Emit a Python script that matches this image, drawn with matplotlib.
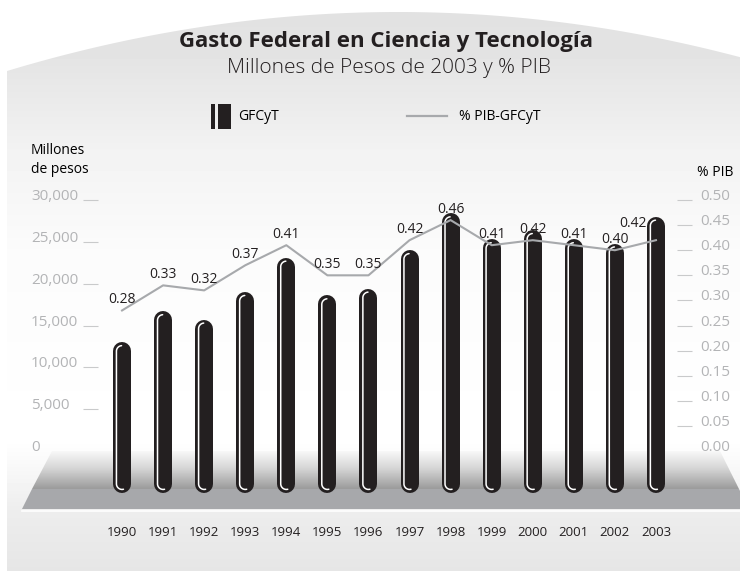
import numpy as np
import matplotlib
matplotlib.use('Agg')
import matplotlib.pyplot as plt
from matplotlib import transforms
from matplotlib.patches import Polygon, Rectangle

# data
years = [1990, 1991, 1992, 1993, 1994, 1995, 1996,
         1997, 1998, 1999, 2000, 2001, 2002, 2003]
gasto = [13000, 16700, 15700, 19000, 23100, 18600, 19400,
         24000, 28400, 25300, 26400, 25300, 24800, 28000]
pib = [0.28, 0.33, 0.32, 0.37, 0.41, 0.35, 0.35,
       0.42, 0.46, 0.41, 0.42, 0.41, 0.40, 0.42]
left_ticks = [0, 5000, 10000, 15000, 20000, 25000, 30000]
right_ticks = [0.0, 0.05, 0.10, 0.15, 0.20, 0.25, 0.30, 0.35, 0.40, 0.45, 0.50]

plt.rcParams['font.family'] = ['Open Sans', 'DejaVu Sans']
narrow = ['Liberation Sans Narrow', 'Open Sans', 'DejaVu Sans']

W, H = 740, 571
fig = plt.figure(figsize=(W / 100, H / 100), dpi=100)
fig.patch.set_facecolor('white')

# background in pixel coords
bg = fig.add_axes([0, 0, 1, 1])
bg.axis('off')

xs = np.linspace(7, 760, 200)
ys = 12 + 3.86e-4 * (xs - 398) ** 2
panel = Polygon(list(zip(xs, ys)) + [(760, H + 5), (7, H + 5)], closed=True,
                facecolor='none', edgecolor='none')
bg.add_patch(panel)
shade = np.interp(np.arange(H), [0, 60, 150, 250, 440, 509, 571],
                  [0.88, 0.895, 0.95, 0.985, 1.0, 0.93, 0.9])
im = bg.imshow(shade[:, None], extent=(0, W + 20, H, 0), cmap='gray', vmin=0,
               vmax=1, aspect='auto')
im.set_clip_path(panel)

# floor
floor_top = Polygon([(52, 451), (720, 451), (739, 489), (32, 489)], closed=True,
                    facecolor='none', edgecolor='none')
bg.add_patch(floor_top)
fshade = np.interp(np.linspace(451, 489, 60), [451, 468, 489], [0.97, 0.84, 0.61])
im2 = bg.imshow(fshade[:, None], extent=(0, W, 489, 451), cmap='gray', vmin=0,
                vmax=1, aspect='auto')
im2.set_clip_path(floor_top)
bg.add_patch(Polygon([(32, 489), (739, 489), (749, 509), (22, 509)], closed=True,
                     facecolor='#a7a8ab', edgecolor='none'))
bg.plot([22, 749], [510.5, 510.5], color='white', lw=1.2)

bg.set_xlim(0, W)
bg.set_ylim(H, 0)

# titles
bg.text(386, 42, 'Gasto Federal en Ciencia y Tecnología', ha='center', va='center',
        fontsize=16, fontweight='bold', color='#231f20')
bg.text(389, 68, 'Millones de Pesos de 2003 y % PIB', ha='center', va='center',
        fontsize=15, fontweight='light', color='#231f20')

# legend
bg.add_patch(Rectangle((211, 104), 4, 25, facecolor='#231f20', edgecolor='none'))
bg.add_patch(Rectangle((218, 104), 13, 25, facecolor='#231f20', edgecolor='none'))
bg.text(238, 117, 'GFCyT', ha='left', va='center', fontsize=10, family=narrow)
bg.plot([407, 447], [116, 116], color='#a7a9ac', lw=1.6)
bg.text(459, 117, '% PIB-GFCyT', ha='left', va='center', fontsize=10, family=narrow)

bg.text(31, 160, 'Millones\nde pesos', ha='left', va='center', fontsize=10,
        family=narrow, linespacing=1.35)
bg.text(697, 172, '% PIB', ha='left', va='center', fontsize=10, family=narrow)

# main axes: bars
ax = fig.add_axes([101.5 / W, (H - 501.2) / H, 575 / W, 317.9 / H])
ax.set_xlim(-0.5, 13.5)
ax.set_ylim(-6000, 32000)
ax.patch.set_visible(False)
for s in ax.spines.values():
    s.set_visible(False)
ax.spines['left'].set_position(('outward', 2.2))

px_x = 575 / 14
px_y = 317.9 / 38000
r = 9
r_y = r / px_y
base = -5000
for i, v in enumerate(gasto):
    ax.plot([i, i], [base + r_y, v - r_y], color='#231f20', lw=2 * r * 0.72,
            solid_capstyle='round', zorder=3)
    rr = 5.6
    t1 = np.radians(np.linspace(95, 180, 20))
    t2 = np.radians(np.linspace(180, 285, 20))
    hx = np.concatenate([i + rr * np.cos(t1) / px_x, i + rr * np.cos(t2) / px_x])
    hy = np.concatenate([v - r_y + rr * np.sin(t1) / px_y,
                         base + r_y + rr * np.sin(t2) / px_y])
    ax.plot(hx, hy, color='white', lw=1.1, zorder=4, solid_capstyle='round')

ax.set_xticks([])
ax.set_yticks(left_ticks[1:])
ax.set_yticklabels([])
ax.tick_params(axis='y', length=15 * 0.72, width=0.8, color='#c9cacb')

lab_off = transforms.ScaledTranslation(0, 0.035, fig.dpi_scale_trans)
ltrans = transforms.blended_transform_factory(fig.transFigure, ax.transData) + lab_off
for v in left_ticks:
    ax.text(31 / W, v, f'{v:,}', transform=ltrans, ha='left', va='center',
            fontsize=11, color='#b3b4b6')

for i, y in enumerate(years):
    ax.text(i, -0.1, str(y), transform=ax.get_xaxis_transform(), ha='center',
            va='center', fontsize=9.5, family=narrow, color='#231f20')

# percent line
ax2 = ax.twinx()
ax2.set_ylim(-0.1, 32000 / 60000)
for s in ax2.spines.values():
    s.set_visible(False)
ax2.set_yticks(right_ticks[1:])
ax2.set_yticklabels([])
ax2.tick_params(axis='y', length=15 * 0.72, width=0.8, color='#c9cacb')
rtrans = transforms.blended_transform_factory(fig.transFigure, ax2.transData) + lab_off
for v in right_ticks:
    ax2.text(700 / W, v, f'{v:.2f}', transform=rtrans, ha='left', va='center',
             fontsize=11, color='#b3b4b6')

ax2.plot(range(len(pib)), pib, color='#a7a9ac', lw=1.5, zorder=5)
last = len(pib) - 1
for i, p in enumerate(pib):
    # last label sits left of its bar so it does not hide in the black
    dx, dy = (-23, 17) if i == last else (0, 11)
    ax2.annotate(f'{p:.2f}', (i, p), xytext=(dx, dy), textcoords='offset pixels',
                 ha='center', va='center', fontsize=10, color='#231f20', zorder=6)

fig.savefig('out.png', dpi=100)
